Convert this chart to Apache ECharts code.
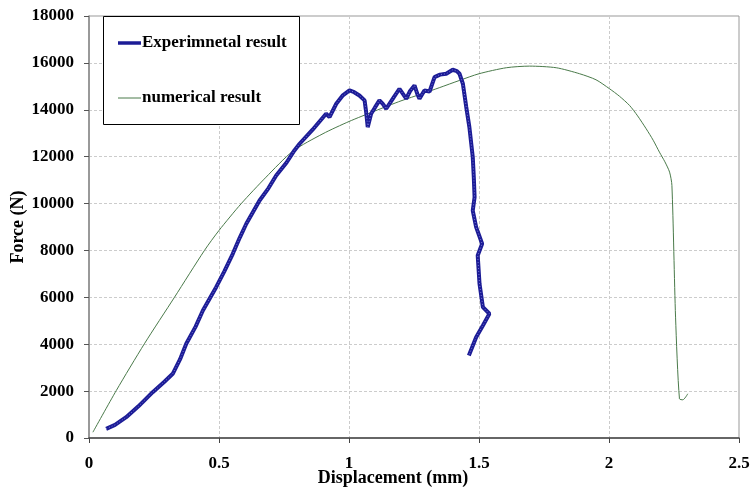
<!DOCTYPE html>
<html lang="en">
<head>
    <meta charset="utf-8">
    <title>Force - Displacement</title>
    <script type="text/javascript" src="https://cdn.jsdelivr.net/npm/echarts@6/dist/echarts.min.js"></script>
    <style>
        html, body { margin: 0; padding: 0; background: #fff; }
        #main { width: 750px; height: 487px; }
    </style>
</head>
<body>
<div id="main"></div>
<script>
    // x axis ticks (mm) and y axis ticks (N)
    var xTicks = [0, 0.5, 1, 1.5, 2, 2.5];
    var yTicks = [0, 2000, 4000, 6000, 8000, 10000, 12000, 14000, 16000, 18000];

    var expX = [0.066, 0.10, 0.143, 0.19, 0.245, 0.29, 0.322, 0.35, 0.374, 0.41, 0.438, 0.489, 0.52, 0.553, 0.58, 0.605,
        0.656, 0.69, 0.72, 0.76, 0.79, 0.81, 0.86, 0.912, 0.925, 0.951, 0.975, 1.002, 1.02, 1.04, 1.06, 1.066, 1.072,
        1.085, 1.10, 1.117, 1.13, 1.143, 1.17, 1.194, 1.22, 1.235, 1.252, 1.262, 1.271, 1.29, 1.31, 1.329, 1.35,
        1.374, 1.399, 1.415, 1.425, 1.438, 1.451, 1.463, 1.476, 1.48, 1.483, 1.476, 1.489, 1.512, 1.495, 1.502,
        1.515, 1.54, 1.515, 1.489, 1.461];
    var expY = [392, 560, 887, 1350, 1954, 2400, 2739, 3350, 4019, 4750, 5439, 6433, 7100, 7858, 8550, 9138,
        10132, 10650, 11199, 11750, 12265, 12551, 13150, 13831, 13686, 14258, 14600, 14825, 14750, 14612, 14400, 13900, 13259,
        13831, 14100, 14400, 14250, 14044, 14500, 14897, 14471, 14800, 15038, 14700, 14471, 14825, 14780, 15393, 15500,
        15537, 15708, 15650, 15537, 15110, 14113, 13259, 11980, 11126, 10273, 9700, 8993, 8285, 7786, 6578,
        5580, 5299, 4800, 4300, 3520];

    // numerical curve
    var numX = [0.015, 0.105, 0.213, 0.329, 0.444, 0.5, 0.585, 0.681, 0.784, 0.9, 1.0, 1.1, 1.2, 1.28, 1.347,
        1.425, 1.5, 1.605, 1.694, 1.797, 1.887, 1.95, 2.002, 2.04, 2.079, 2.11, 2.143, 2.17, 2.194, 2.215, 2.233,
        2.242, 2.256, 2.271, 2.284, 2.303];
    var numY = [247, 2026, 4019, 6007, 8000, 8853, 9991, 11126, 12236, 12980, 13500, 13950, 14380, 14680, 14940,
        15252, 15537, 15793, 15862, 15793, 15537, 15280, 14897, 14580, 14185, 13740, 13190, 12700, 12193, 11780, 11340,
        10772, 5154, 1672, 1630, 1886];

    function pairs(xs, ys) {
        var out = [];
        for (var i = 0; i < xs.length; i++) out.push([xs[i], ys[i]]);
        return out;
    }

    var serif = '"Liberation Serif", "DejaVu Serif", serif';
    var myChart = echarts.init(document.getElementById('main'));
    var option = {
        animation: false,
        backgroundColor: '#fff',
        grid: {
            left: 89, right: 11, top: 16, bottom: 49,
            containLabel: false,
            outerBoundsMode: 'none',
            show: true, borderColor: '#999', borderWidth: 1
        },
        graphic: [
            {
                type: 'rect', left: 103, top: 16,
                shape: { width: 196, height: 108 },
                style: { fill: '#fff', stroke: '#000', lineWidth: 1 },
                z: 100
            },
            { type: 'line', shape: { x1: 118, y1: 43, x2: 141, y2: 43 },
                style: { stroke: '#1c1c96', lineWidth: 3.5 }, z: 101 },
            { type: 'text', left: 142, top: 34,
                style: { text: 'Experimnetal result', font: 'bold 17px ' + serif, fill: '#000' }, z: 101 },
            { type: 'line', shape: { x1: 118, y1: 98, x2: 141, y2: 98 },
                style: { stroke: '#4a7a4a', lineWidth: 1 }, z: 101 },
            { type: 'text', left: 142, top: 89,
                style: { text: 'numerical result', font: 'bold 17px ' + serif, fill: '#000' }, z: 101 }
        ],
        xAxis: {
            type: 'value',
            min: xTicks[0], max: xTicks[xTicks.length - 1], interval: 0.5,
            name: 'Displacement (mm)',
            nameLocation: 'middle', nameGap: 31, nameMoveOverlap: false,
            nameTextStyle: {
                fontFamily: serif, fontWeight: 'bold', fontSize: 18, color: '#000',
                padding: [0, 42, 0, 0]
            },
            axisLine: { lineStyle: { color: '#444', width: 1.5 } },
            axisTick: { show: true, length: 5, lineStyle: { color: '#444' } },
            axisLabel: { fontFamily: serif, fontWeight: 'bold', fontSize: 17, color: '#000', margin: 17 },
            splitLine: { show: true, lineStyle: { color: '#ccc', type: [3, 2] } }
        },
        yAxis: {
            type: 'value',
            min: yTicks[0], max: yTicks[yTicks.length - 1], interval: 2000,
            name: 'Force (N)',
            nameLocation: 'middle', nameGap: 62, nameRotate: 90, nameMoveOverlap: false,
            nameTextStyle: { fontFamily: serif, fontWeight: 'bold', fontSize: 18, color: '#000' },
            axisLine: { show: true, lineStyle: { color: '#888', width: 1.5 } },
            axisTick: { show: true, length: 5, inside: false, lineStyle: { color: '#555' } },
            axisLabel: {
                fontFamily: serif, fontWeight: 'bold', fontSize: 17, color: '#000', margin: 15,
                formatter: function (v) { return String(v); }
            },
            splitLine: { show: true, lineStyle: { color: '#ccc', type: [3, 2] } }
        },
        series: [
            {
                name: 'numerical result',
                type: 'line',
                data: pairs(numX, numY),
                smooth: 0.25,
                showSymbol: false,
                lineStyle: { color: '#4a7a4a', width: 1 },
                z: 2
            },
            {
                name: 'Experimnetal result',
                type: 'line',
                data: pairs(expX, expY),
                showSymbol: false,
                lineStyle: { color: '#1c1c96', width: 4 },
                z: 3
            },
            {
                // light beads along the experimental line
                name: 'Experimnetal result',
                type: 'line',
                data: pairs(expX, expY),
                showSymbol: false,
                lineStyle: { color: '#7a7ad8', width: 1, type: [1, 2] },
                z: 4
            }
        ]
    };
    myChart.setOption(option);
</script>
</body>
</html>
